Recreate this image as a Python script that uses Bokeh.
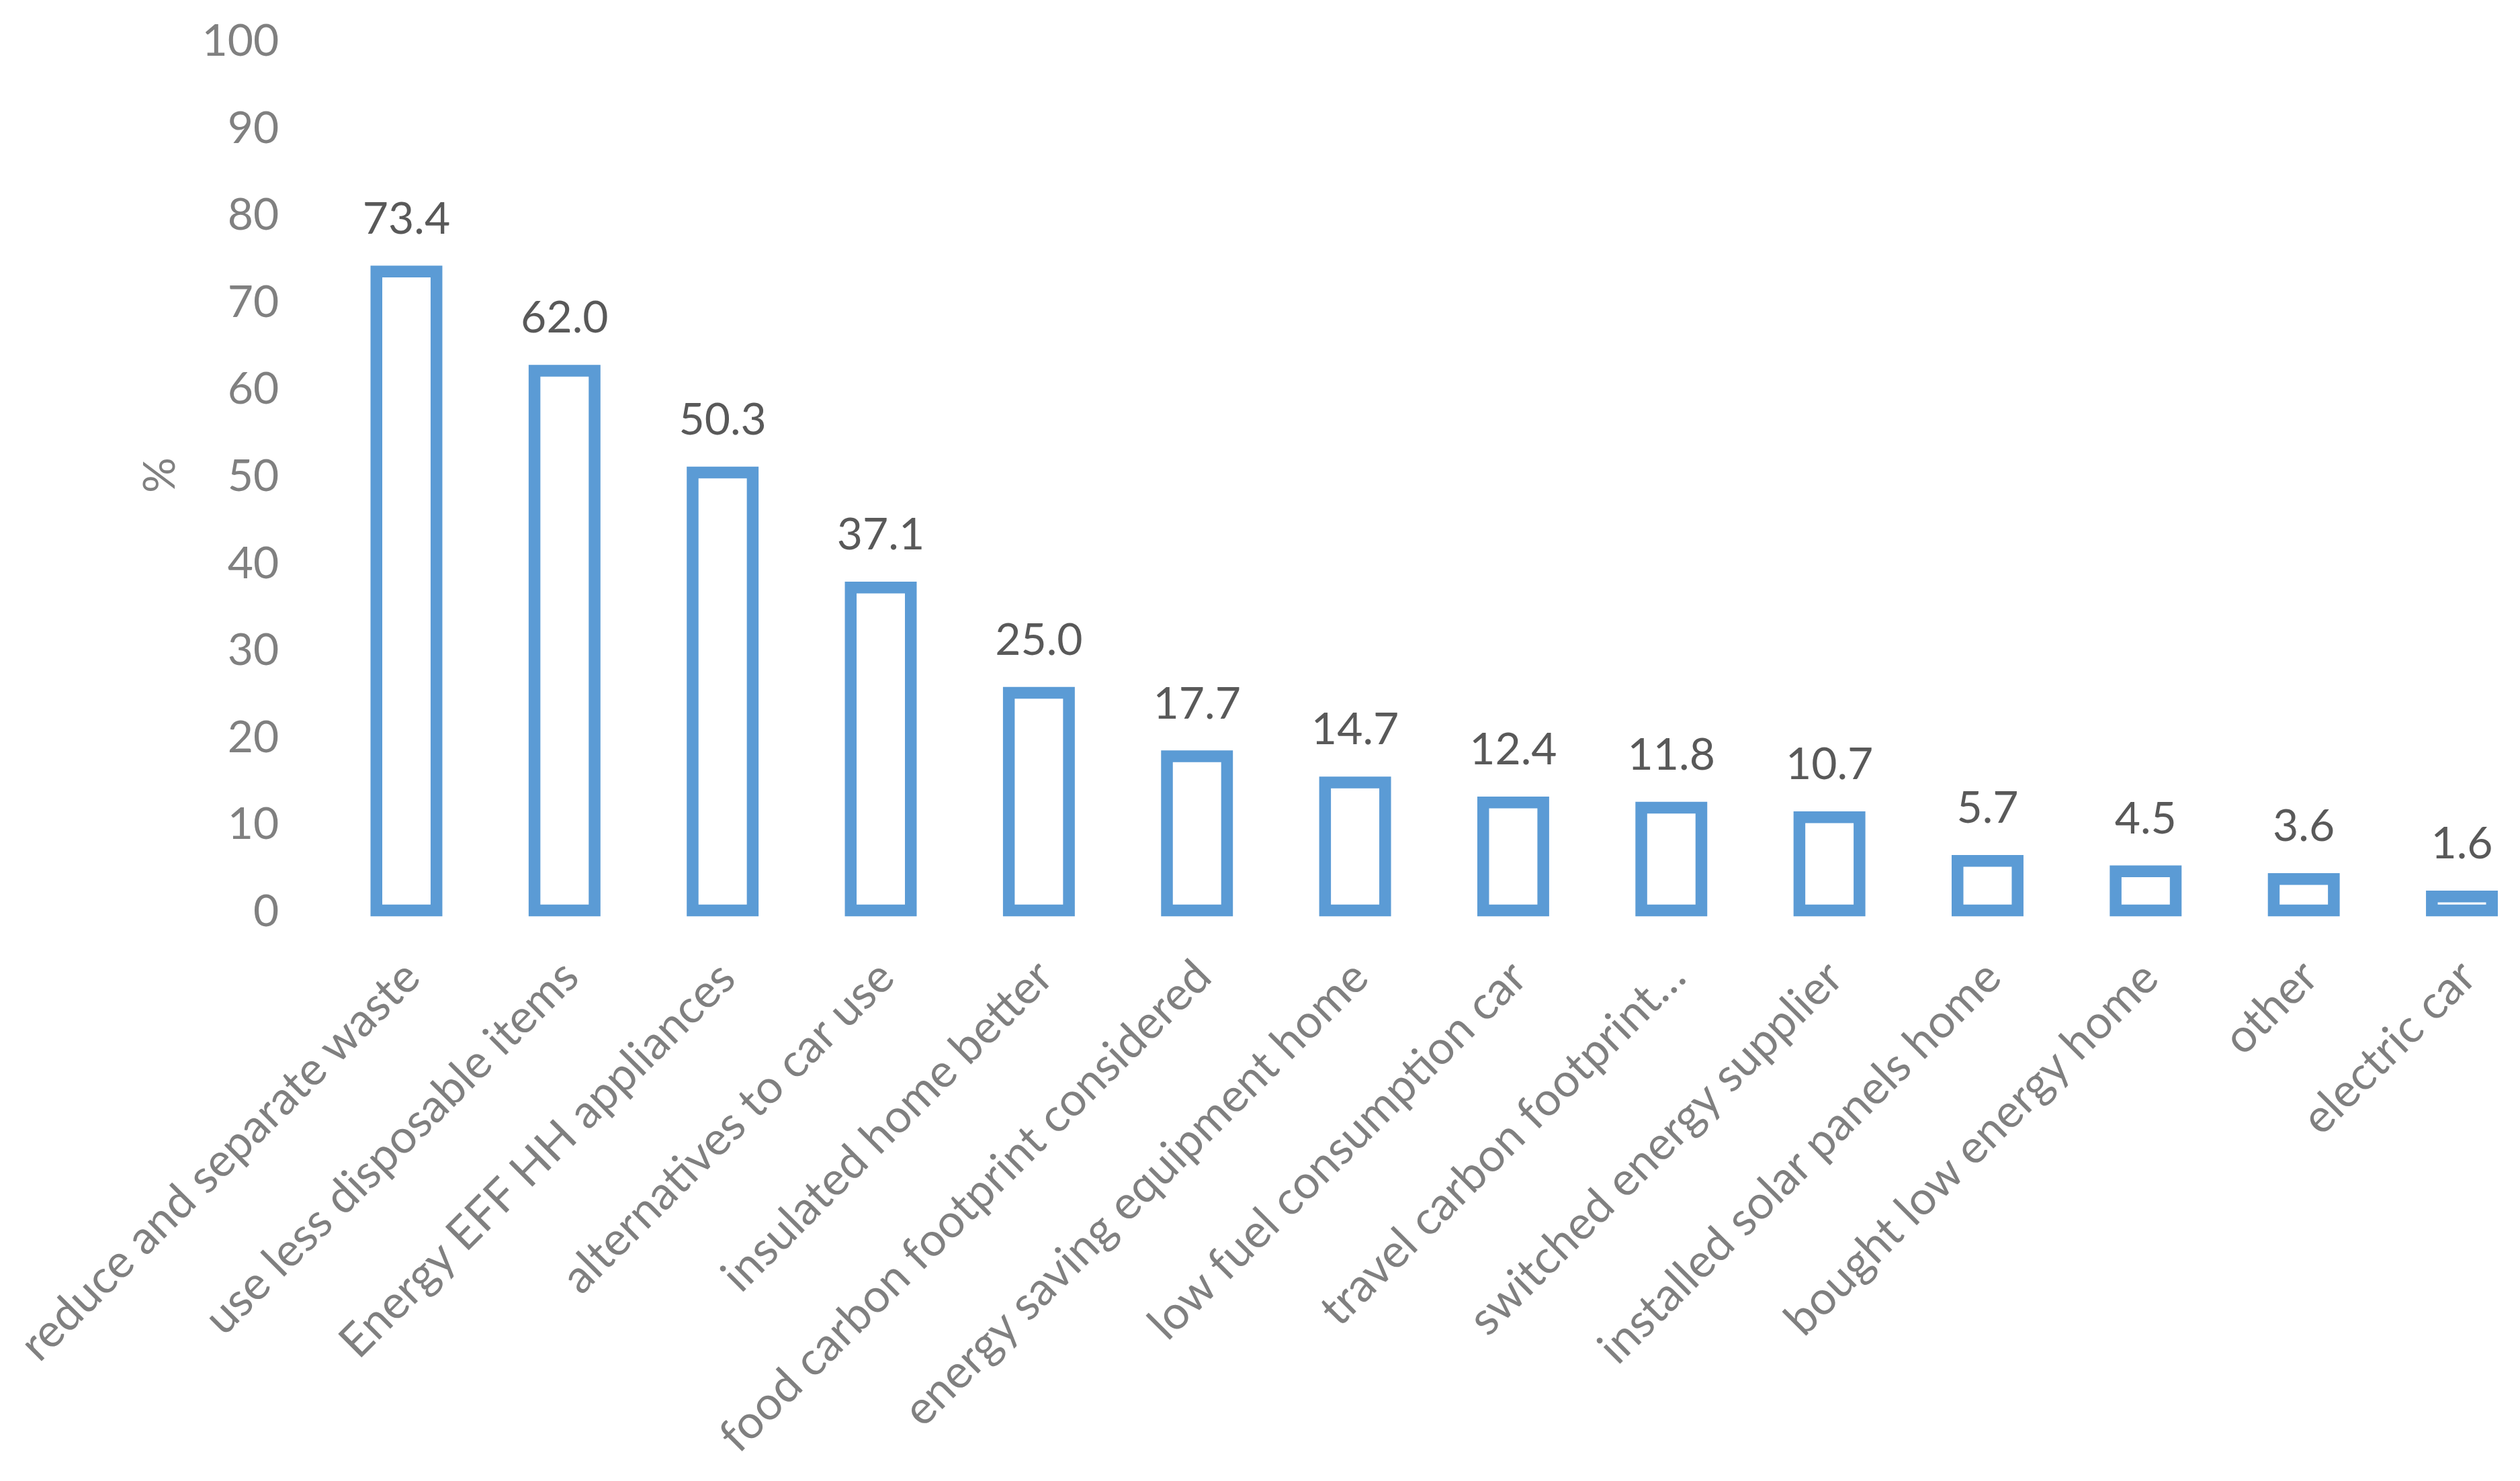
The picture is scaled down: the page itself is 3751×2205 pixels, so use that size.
import math
from bokeh.plotting import figure
from bokeh.models import ColumnDataSource, LabelSet, Label, FixedTicker, Range1d
from bokeh.core.properties import value
from bokeh.embed import file_html
from bokeh.resources import INLINE

categories = [
    "reduce and separate waste",
    "use less disposable items",
    "Energy EFF HH appliances",
    "alternatives to car use",
    "insulated home better",
    "food carbon footprint considered",
    "energy saving equipment home",
    "low fuel consumption car",
    "travel carbon footprint…",
    "switched energy supplier",
    "installed solar panels home",
    "bought low energy home",
    "other",
    "electric car",
]
values = [73.4, 62.0, 50.3, 37.1, 25.0, 17.7, 14.7, 12.4, 11.8, 10.7, 5.7, 4.5, 3.6, 1.6]
y_ticks = [0, 10, 20, 30, 40, 50, 60, 70, 80, 90, 100]
y_title = "%"

FONT = "Lato"
BLUE = "#5B9BD5"
AXIS_GRAY = "#808080"
LABEL_GRAY = "#595959"

idx = list(range(len(categories)))
src = ColumnDataSource(dict(
    x=idx,
    top=values,
    lbl=[f"{v:.1f}" for v in values],
    zero=[0] * len(categories),
    cat=categories,
))

# canvas / frame geometry (frame covers the whole canvas so no text is clipped)
W, H = 3735, 2189
X_PX = 235.35         # pixels per category
Y_PX = 12.96          # pixels per percentage point
PLOT_LEFT = 486.8     # left edge of the bar area (canvas px)
Y0_PX = 1355          # canvas row of y = 0
x_start = -0.5 - PLOT_LEFT / X_PX
x_end = -0.5 + (W - PLOT_LEFT) / X_PX
y_end = Y0_PX / Y_PX
y_start = (Y0_PX - H) / Y_PX

p = figure(
    width=W, height=H,
    x_range=Range1d(x_start, x_end),
    y_range=Range1d(y_start, y_end),
    output_backend="svg",
    toolbar_location=None,
    x_axis_location=None,
    min_border_left=0, min_border_right=0,
    min_border_top=0, min_border_bottom=0,
)
p.outline_line_color = None
p.background_fill_color = "white"
p.border_fill_color = "white"
p.xgrid.visible = False
p.ygrid.visible = False

p.vbar(x="x", top="top", bottom=0, width=0.380, source=src,
       fill_color="white", line_color=BLUE, line_width=17.5, line_join="miter")

labels = LabelSet(x="x", y="top", text="lbl", source=src,
                  text_align="center", text_baseline="middle", y_offset=80,
                  text_font=value(FONT), text_font_size="66px", text_color=LABEL_GRAY)
p.add_layout(labels)

# category labels, rotated 45 degrees, right end at each category
cat_labels = LabelSet(x="x", y="zero", text="cat", source=src,
                      angle=math.pi / 4, angle_units="rad",
                      text_align="right", text_baseline="alphabetic",
                      x_offset=25, y_offset=-103,
                      text_font=value(FONT), text_font_size="69px",
                      text_color=AXIS_GRAY)
p.add_layout(cat_labels)

# y axis, pinned at the left edge of the bar area
p.yaxis.fixed_location = -0.5
p.yaxis.ticker = FixedTicker(ticks=y_ticks)
p.yaxis.axis_line_color = None
p.yaxis.major_tick_line_color = None
p.yaxis.minor_tick_line_color = None
p.yaxis.major_tick_out = 0
p.yaxis.major_tick_in = 0
p.yaxis.major_label_standoff = 72
p.yaxis.major_label_text_font = FONT
p.yaxis.major_label_text_font_size = "66px"
p.yaxis.major_label_text_color = AXIS_GRAY

# y axis title
title = Label(x=-0.5, y=50, x_offset=-253, text=y_title, angle=math.pi / 2,
              text_align="center", text_baseline="middle",
              text_font=FONT, text_font_size="66px", text_color=AXIS_GRAY)
p.add_layout(title)

open("out.html", "w").write(file_html(p, INLINE))
